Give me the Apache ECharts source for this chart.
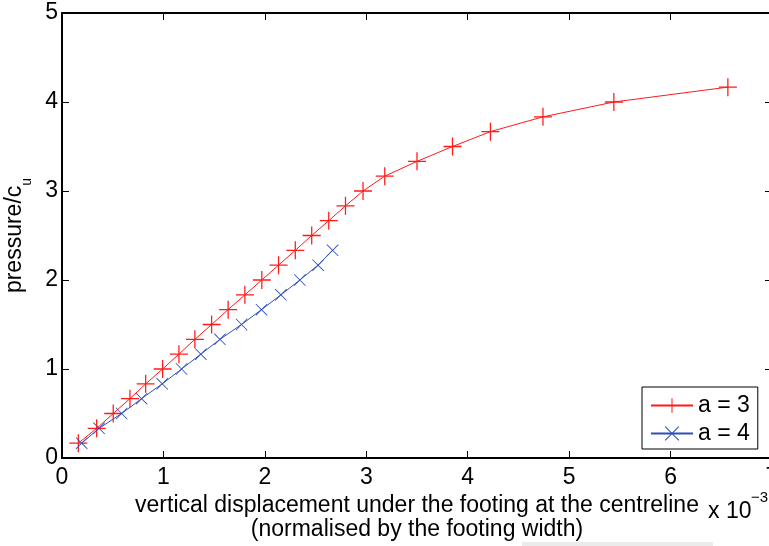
<!DOCTYPE html>
<html>
<head>
<meta charset="utf-8">
<script src="https://cdn.jsdelivr.net/npm/echarts@6/dist/echarts.min.js"></script>
<style>
  html, body { margin: 0; padding: 0; background: #fff; }
  #chart { width: 769px; height: 546px; }
</style>
</head>
<body>
<div id="chart"></div>
<script>
// ---- data (x in units of 1e-3) ----
const seriesNames = ['a = 3', 'a = 4'];
const redX = [0.161, 0.342, 0.505, 0.670, 0.825, 0.992, 1.153, 1.310, 1.475, 1.638, 1.803, 1.970, 2.135,
              2.300, 2.462, 2.630, 2.795, 2.968, 3.182, 3.500, 3.850, 4.224, 4.742, 5.441, 6.565];
const redY = [0.167, 0.333, 0.5, 0.667, 0.833, 1.0, 1.167, 1.333, 1.5, 1.667, 1.833, 2.0, 2.167,
              2.333, 2.5, 2.667, 2.833, 3.0, 3.167, 3.333, 3.5, 3.667, 3.833, 4.0, 4.167];
const blueX = [0.194, 0.365, 0.588, 0.785, 0.988, 1.179, 1.369, 1.557, 1.770, 1.967, 2.158, 2.345, 2.525, 2.668];
const blueY = [0.167, 0.333, 0.5, 0.667, 0.833, 1.0, 1.167, 1.333, 1.5, 1.667, 1.833, 2.0, 2.167, 2.333];
const xTitle = 'vertical displacement under the footing at the centreline\n(normalised by the footing width)';
const yTitleMain = 'pressure/c';
const yTitleSub = 'u';
const xScaleText = 'x 10';
const xScaleExp = '\u22123';

const FONT = "'Liberation Sans', Arial, Helvetica, sans-serif";
const RED = '#ff1a1a';
const BLUE = '#2f4fbb';
const PLUS = 'path://M0,46.5 L100,46.5 L100,53.5 L0,53.5 Z M46.5,0 L53.5,0 L53.5,100 L46.5,100 Z';
const CROSS = 'path://M0,5 L5,0 L100,95 L95,100 Z M95,0 L100,5 L5,100 L0,95 Z';

const zip = (xs, ys) => xs.map((x, i) => [x, ys[i]]);

const chart = echarts.init(document.getElementById('chart'), null, { renderer: 'canvas' });

const axisCommon = {
  axisLine: { show: true, onZero: false, lineStyle: { color: '#000', width: 2 } },
  axisTick: { show: true, inside: true, length: 7, lineStyle: { color: '#000', width: 1 } },
  splitLine: { show: false }
};

chart.setOption({
  animation: false,
  backgroundColor: '#fff',
  textStyle: { fontFamily: FONT },
  grid: { left: 62, top: 13, width: 710, height: 445, containLabel: false, outerBoundsMode: 'none' },
  xAxis: [
    Object.assign({
      type: 'value', position: 'bottom', min: 0, max: 7, interval: 1,
      axisLabel: { color: '#000', fontSize: 23, margin: 8, fontFamily: FONT },
      name: xTitle, nameLocation: 'middle', nameGap: 31,
      nameTextStyle: { color: '#000', fontSize: 23, lineHeight: 24, fontFamily: FONT, align: 'center' }
    }, axisCommon),
    Object.assign({
      type: 'value', position: 'top', min: 0, max: 7, interval: 1,
      axisLabel: { show: false }
    }, axisCommon)
  ],
  yAxis: [
    Object.assign({
      type: 'value', position: 'left', min: 0, max: 5, interval: 1,
      axisLabel: { color: '#000', fontSize: 23, margin: 4, fontFamily: FONT },
      name: '{a|' + yTitleMain + '}{b|' + yTitleSub + '}',
      nameLocation: 'middle', nameRotate: 90, nameGap: 27,
      nameTextStyle: {
        color: '#000', fontFamily: FONT,
        rich: {
          a: { fontSize: 23, color: '#000', fontFamily: FONT },
          b: { fontSize: 14, color: '#000', fontFamily: FONT, verticalAlign: 'bottom', padding: [26, 0, 0, 0] }
        }
      }
    }, axisCommon),
    Object.assign({
      type: 'value', position: 'right', min: 0, max: 5, interval: 1,
      axisLabel: { show: false }
    }, axisCommon)
  ],
  legend: {
    show: true,
    data: seriesNames,
    orient: 'vertical',
    left: 642, top: 387,
    itemWidth: 42, itemHeight: 18, itemGap: 5,
    padding: [7, 8, 4, 8],
    borderColor: '#000', borderWidth: 1, backgroundColor: '#fff',
    textStyle: { color: '#000', fontSize: 23, lineHeight: 18, fontFamily: FONT },
    selectedMode: false
  },
  series: [
    {
      name: seriesNames[0], type: 'line', xAxisIndex: 0, yAxisIndex: 0,
      data: zip(redX, redY),
      symbol: PLUS, symbolSize: 18,
      showAllSymbol: true,
      lineStyle: { color: RED, width: 1 },
      itemStyle: { color: RED },
      emphasis: { disabled: true }
    },
    {
      name: seriesNames[1], type: 'line', xAxisIndex: 0, yAxisIndex: 0,
      data: zip(blueX, blueY),
      symbol: CROSS, symbolSize: 12,
      showAllSymbol: true,
      lineStyle: { color: BLUE, width: 1 },
      itemStyle: { color: BLUE },
      emphasis: { disabled: true }
    }
  ],
  graphic: [
    { type: 'text', left: 708, top: 500, style: { text: xScaleText, fill: '#000', font: '23px ' + FONT } },
    { type: 'text', left: 751, top: 490, style: { text: xScaleExp, fill: '#000', font: '15px ' + FONT } },
    { type: 'rect', left: 522, top: 542, shape: { width: 191, height: 4 }, style: { fill: '#ebebeb' }, z: -1 }
  ]
});
</script>
</body>
</html>
